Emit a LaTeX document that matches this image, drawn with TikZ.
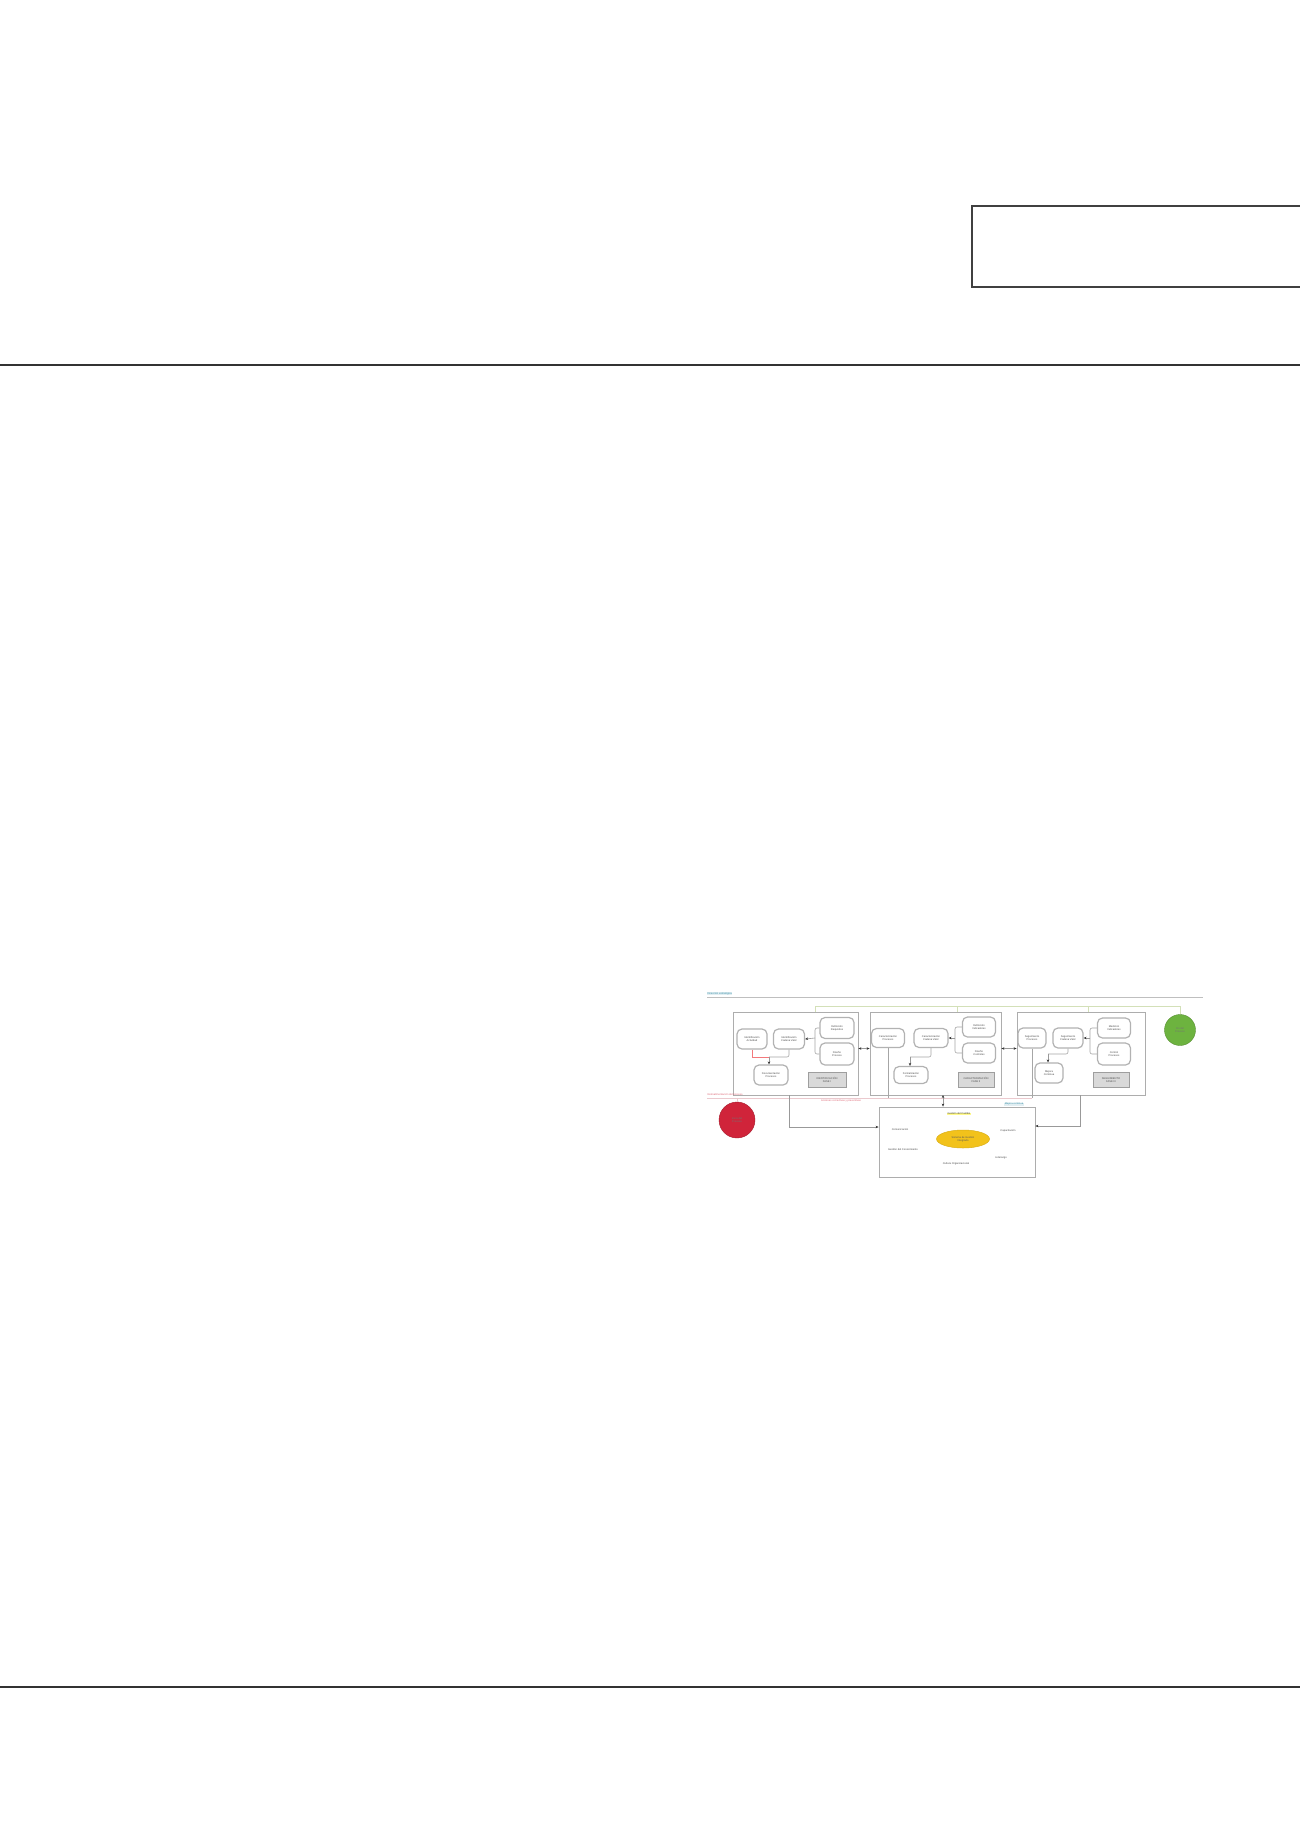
\documentclass[tikz,border=0pt]{standalone}
\usepackage{fontspec}
\setmainfont{Liberation Sans}
\usetikzlibrary{arrows.meta,shapes.geometric}
\definecolor{teallab}{HTML}{3A8FA8}
\definecolor{redc}{HTML}{D0243A}
\definecolor{greenc}{HTML}{6DB33F}
\definecolor{goldc}{HTML}{F2C21B}
\definecolor{gline}{HTML}{D3E0B8}
\definecolor{rline}{HTML}{EBC9CE}
\begin{document}
\begin{tikzpicture}[x=1pt,y=-1pt,
  tx/.style={font=\fontsize{2.6}{3.1}\selectfont, text=black!70, align=center, inner sep=0.3pt},
  grp/.style={draw=black!32, line width=0.8pt, inner sep=0pt},
  act/.style={tx, draw=black!30, line width=1.2pt, rounded corners=5pt, fill=white},
  lab/.style={tx, draw=black!38, line width=0.8pt, fill=black!15},
  conn/.style={draw=black!40, line width=0.6pt, -{Stealth[length=3pt,width=2.5pt,color=black!80]}},
  dconn/.style={draw=black!40, line width=0.6pt, {Stealth[length=3pt,width=2.5pt,color=black!80]}-{Stealth[length=3pt,width=2.5pt,color=black!80]}},
  plain/.style={draw=black!35, line width=0.6pt, rounded corners=2pt}]
\useasboundingbox (0,0) rectangle (1300,1839);
\fill[white] (0,0) rectangle (1300,1839);

% page furniture
\draw[line width=1.4pt, draw=black!75] (972,206) rectangle (1306,287);
\draw[line width=1.4pt, draw=black!80] (0,365) -- (1300,365);
\draw[line width=1.4pt, draw=black!80] (0,1687) -- (1300,1687);

% group boxes
\node[grp, minimum width=125, minimum height=83] (G1) at (795.5,1053.5) {};
\node[grp, minimum width=131, minimum height=83] (G2) at (935.5,1053.5) {};
\node[grp, minimum width=128, minimum height=83] (G3) at (1081,1053.5) {};

% group 1
\node[act, minimum width=30, minimum height=20] (A1) at (752,1039) {Identificación\\Actividad};
\node[act, minimum width=31, minimum height=20] (B1) at (789,1039) {Identificación\\Cadena Valor};
\node[act, minimum width=34, minimum height=21] (C1) at (837,1028) {Definición\\Requisitos};
\node[act, minimum width=34, minimum height=22] (D1) at (837,1054) {Diseño\\Proceso};
\node[act, minimum width=34, minimum height=20] (E1) at (771,1075) {Documentación\\Procesos};
\node[lab, minimum width=38, minimum height=15] (F1) at (827,1080) {IDENTIFICACIÓN\\FASE I};

% group 2
\node[act, minimum width=33, minimum height=19] (A2) at (888,1038) {Caracterización\\Procesos};
\node[act, minimum width=34, minimum height=19] (B2) at (931,1038) {Caracterización\\Cadena Valor};
\node[act, minimum width=33, minimum height=20] (C2) at (979,1027) {Definición\\Indicadores};
\node[act, minimum width=33, minimum height=20] (D2) at (979,1053) {Diseño\\Controles};
\node[act, minimum width=34, minimum height=17] (E2) at (911,1075) {Formalización\\Procesos};
\node[lab, minimum width=36, minimum height=15] (F2) at (976,1080) {CARACTERIZACIÓN\\FASE II};

% group 3
\node[act, minimum width=28, minimum height=20] (A3) at (1032,1038) {Seguimiento\\Procesos};
\node[act, minimum width=30, minimum height=20] (B3) at (1068,1038) {Seguimiento\\Cadena Valor};
\node[act, minimum width=33, minimum height=20] (C3) at (1114,1028) {Medición\\Indicadores};
\node[act, minimum width=33, minimum height=22] (D3) at (1114,1054) {Control\\Procesos};
\node[act, minimum width=28, minimum height=20] (E3) at (1049,1073) {Mejora\\Continua};
\node[lab, minimum width=36, minimum height=15] (F3) at (1111,1080) {SEGUIMIENTO\\FASE III};

% circles
\node[circle, fill=redc, draw=redc!80!black, line width=0.4pt, minimum size=36, tx, text=black!55] (Red) at (737,1120) {Inicio del\\Proceso};
\node[circle, fill=greenc, draw=greenc!80!black, line width=0.4pt, minimum size=31, tx, text=black!55] (Green) at (1180,1030) {Fin del\\Proceso};

% central box
\node[grp, minimum width=156, minimum height=70] (Cen) at (957,1142) {};
\node[tx, fill=yellow!45, text=black!75] (Ylab) at (959,1114) {Gestión del Cambio};
\node[ellipse, fill=goldc, draw=goldc!90!black, line width=0.5pt, minimum width=53, minimum height=18, tx, text=black!65] (Ell) at (963,1139) {Sistema de Gestión\\Integrado};
\node[tx] (T1) at (900,1130) {Comunicación};
\node[tx] (T2) at (903,1150) {Gestión del Conocimiento};
\node[tx] (T3) at (956,1164) {Cultura Organizacional};
\node[tx] (T4) at (1008,1131) {Capacitación};
\node[tx] (T5) at (1001,1158) {Liderazgo};
\node[tx, text=teallab, fill=teallab!15, anchor=south] (Tl) at (1014,1106) {Mejora continua};

% top and bottom bus lines
\coordinate (t0) at (707,997);
\coordinate (t1) at (1203,997);
\draw[draw=black!25, line width=0.8pt] (t0) -- (t1);
\node[tx, text=teallab, fill=teallab!15, anchor=south west] (Tt) at (707,995.5) {Dirección estratégica};

\coordinate (g0) at (815,1006);
\draw[draw=gline, line width=0.8pt] (G1.north -| g0) -- (g0) -| (Green.north);
\draw[draw=gline, line width=0.8pt] (G2.north -| 957,0) -- (957,1006);
\draw[draw=gline, line width=0.8pt] (G3.north -| 1088,0) -- (1088,1006);

\coordinate (r0) at (707,1098);
\coordinate (r1) at (1032,1098);
\draw[draw=rline, line width=0.8pt] (r0) -- (r1);
\draw[draw=rline, line width=0.8pt] (Red.north) -- (Red.north |- r0);
\node[tx, text=redc!70, anchor=south west] (Rl1) at (707,1097) {Retroalimentación del proceso};
\node[tx, text=redc!70, anchor=north] (Rl2) at (841,1099) {Acciones correctivas y preventivas};

% group 1 connections
\coordinate (J1) at (815,1038);
\draw[plain] (C1.west) -| (J1) |- (D1.west);
\draw[conn] (J1) -- (B1.east);
\coordinate (M1) at (769,1057);
\draw[draw=rline!60!red, line width=0.6pt] (A1.south) |- (M1);
\draw[plain] (B1.south) |- (M1);
\draw[conn] (M1) -- (E1.north -| M1);

% group 2 connections
\coordinate (J2) at (955,1038);
\draw[plain] (C2.west) -| (J2) |- (D2.west);
\draw[conn] (J2) -- (B2.east);
\coordinate (M2) at (910,1057);
\draw[plain] (B2.south) |- (M2);
\draw[conn] (M2) -- (E2.north -| M2);
\draw[plain] (A2.south) -- (A2.south |- r0);

% group 3 connections
\coordinate (J3) at (1090,1038);
\draw[plain] (C3.west) -| (J3) |- (D3.west);
\draw[conn] (J3) -- (B3.east);
\coordinate (M3) at (1048,1054);
\draw[plain] (B3.south) |- (M3);
\draw[plain] (A3.south) -- (A3.south |- r0);
\draw[conn] (M3) -- (E3.north -| M3);

% between groups
\draw[dconn] ([yshift=5pt]G1.east) -- ([yshift=5pt]G2.west);
\draw[dconn] ([yshift=5pt]G2.east) -- ([yshift=5pt]G3.west);

% to central box
\coordinate (o1) at (789,1095);
\coordinate (o2) at (943,1095);
\coordinate (o3) at (1080,1095);
\draw[conn] (o1) |- ([yshift=15pt]Cen.west);
\draw[conn] (o3) |- ([yshift=16pt]Cen.east);
\draw[dconn] (o2) -- (Cen.north -| o2);
\end{tikzpicture}
\end{document}
